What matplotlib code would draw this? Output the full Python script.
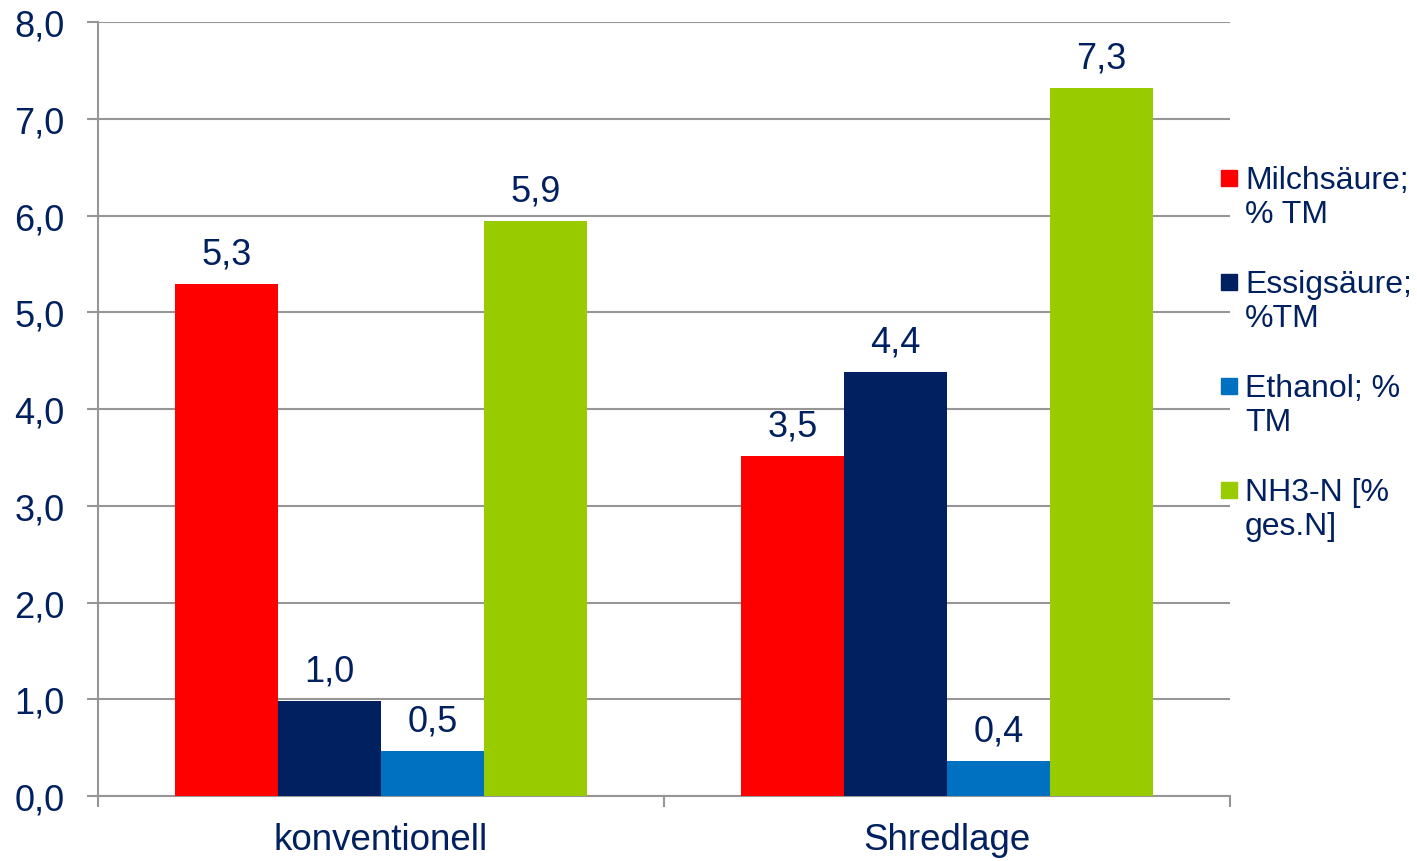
import matplotlib.pyplot as plt
import matplotlib.patches as mpatches
import numpy as np

plt.rcParams['font.family'] = ['Liberation Sans', 'DejaVu Sans']

# data
categories = ['konventionell', 'Shredlage']
series_names = ['Milchsäure;\n% TM', 'Essigsäure;\n%TM', 'Ethanol; %\nTM', 'NH3-N [%\nges.N]']
milchsaeure = [5.29, 3.51]
essigsaeure = [0.98, 4.38]
ethanol = [0.47, 0.36]
nh3n = [5.94, 7.32]
bar_labels = [['5,3', '3,5'], ['1,0', '4,4'], ['0,5', '0,4'], ['5,9', '7,3']]
y_ticks = [0, 1, 2, 3, 4, 5, 6, 7, 8]

colors = ['#FF0000', '#002060', '#0070C0', '#99CC00']
text_color = '#002060'
grid_color = '#969696'

fig = plt.figure(figsize=(14.17, 8.62), dpi=100)
ax = fig.add_axes([98 / 1417, 1 - 797 / 862, (1230 - 98) / 1417, (797 - 23) / 862])

x = np.arange(len(categories))
w = 0.182
all_series = [milchsaeure, essigsaeure, ethanol, nh3n]
for i, (vals, col) in enumerate(zip(all_series, colors)):
    bars = ax.bar(x + (i - 1.5) * w, vals, w, color=col, zorder=3)
    for b, lab in zip(bars, bar_labels[i]):
        ax.annotate(lab, (b.get_x() + b.get_width() / 2, b.get_height()),
                    xytext=(0, 9), textcoords='offset points',
                    ha='center', va='bottom', fontsize=26, color=text_color)

ax.set_xlim(-0.5, 1.5)
ax.set_ylim(0, 8)
ax.set_yticks(y_ticks)
ax.set_yticklabels([f'{v:.1f}'.replace('.', ',') for v in y_ticks])
ax.yaxis.grid(True, color=grid_color, linewidth=1.5, zorder=0)

ax.set_xticks(x)
ax.set_xticklabels(categories)
ax.set_xticks([-0.5, 0.5, 1.5], minor=True)
ax.tick_params(axis='x', which='major', length=0, pad=19, labelsize=26.5, labelcolor=text_color)
ax.tick_params(axis='x', which='minor', length=8, width=1.5, color=grid_color)
ax.tick_params(axis='y', length=8, width=1.5, color=grid_color, pad=16,
               labelsize=26, labelcolor=text_color)

for s in ['top', 'right']:
    ax.spines[s].set_visible(False)
for s in ['left', 'bottom']:
    ax.spines[s].set_color(grid_color)
    ax.spines[s].set_linewidth(1.5)

# legend drawn by hand so the marker sits on the first line
for k, (name, col) in enumerate(zip(series_names, colors)):
    yc = 179 + 104 * k
    fig.patches.append(mpatches.Rectangle((1221 / 1417, 1 - (yc + 8) / 862), 16 / 1417, 16 / 862,
                                          transform=fig.transFigure, color=col))
    fig.text(1245 / 1417, 1 - (yc + 19) / 862, name, ha='left', va='center',
             fontsize=23, color=text_color, linespacing=1.18)

fig.savefig('out.png', dpi=100)
